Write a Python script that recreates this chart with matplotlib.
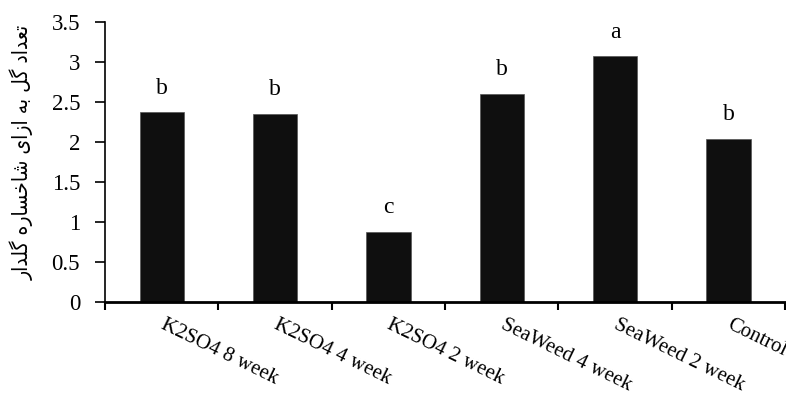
import matplotlib
matplotlib.use("Agg")
import matplotlib.pyplot as plt
import numpy as np

categories = ["K2SO4 8 week", "K2SO4 4 week", "K2SO4 2 week",
              "SeaWeed 4 week", "SeaWeed 2 week", "Control"]
values = [2.37, 2.35, 0.875, 2.60, 3.07, 2.04]
letters = ["b", "b", "c", "b", "a", "b"]
yticks = [0, 0.5, 1, 1.5, 2, 2.5, 3, 3.5]
ytick_labels = ["0", "0.5", "1", "1.5", "2", "2.5", "3", "3.5"]

# Persian y label "تعداد گل به ازای شاخساره گلدار" in visual order with shaped forms
ylabel = ("\uFEAD\uFE8D\uFEAA\uFEE0\uFB94 "
          "\uFEE9\uFEAD\uFE8E\uFEB4\uFEA7\uFE8E\uFEB7 "
          "\uFBFC\uFE8D\uFEAF\uFE8D "
          "\uFEEA\uFE91 "
          "\uFEDE\uFB94 "
          "\uFEA9\uFE8D\uFEAA\uFECC\uFE97")

serif = ["Liberation Serif", "DejaVu Serif"]
plt.rcParams["font.family"] = serif

fig = plt.figure(figsize=(7.86, 3.94), dpi=100)
ax = fig.add_axes([0.1336, 0.2335, 0.8654, 0.7105])

x = np.arange(len(categories))
ax.bar(x, values, width=0.39, color="#0f0f0f", edgecolor="#555555", linewidth=0.5)

for xi, v, l in zip(x, values, letters):
    ax.text(xi, v + 0.17, l, ha="center", va="bottom", fontsize=17, family=serif)

ax.set_xlim(-0.5, len(categories) - 0.5)
ax.set_ylim(0, 3.5)
ax.set_yticks(yticks)
ax.set_yticklabels(ytick_labels, fontsize=16.5)

ax.set_xticks(np.arange(len(categories) + 1) - 0.5)
ax.set_xticklabels([])
ax.set_xticks(x, minor=True)
ax.set_xticklabels(categories, minor=True, rotation=-26, ha="left", va="center",
                   rotation_mode="anchor", fontsize=15)
ax.tick_params(axis="x", which="minor", length=0, pad=16)
ax.tick_params(axis="x", which="major", length=6, width=1.5, direction="out")
ax.tick_params(axis="y", length=7, width=1.2, direction="out", pad=11)

for s in ["top", "right"]:
    ax.spines[s].set_visible(False)
ax.spines["left"].set_linewidth(1.2)
ax.spines["bottom"].set_linewidth(2)

fig.text(0.028, 0.612, ylabel, rotation=90, ha="center", va="center",
         fontsize=15, family=["DejaVu Sans"], fontstretch="condensed")

fig.savefig("out.png", dpi=100)
